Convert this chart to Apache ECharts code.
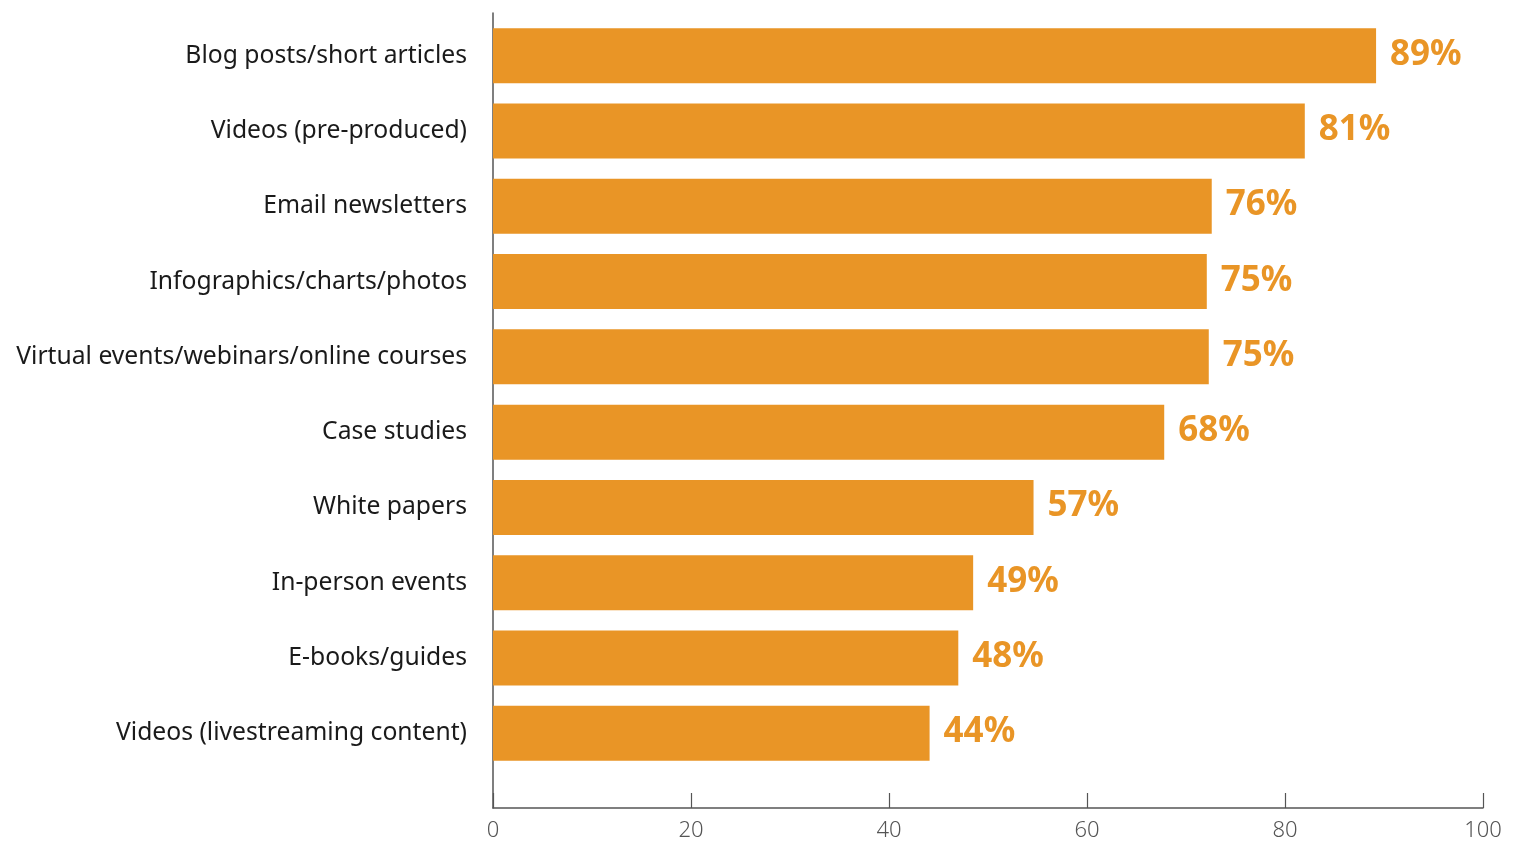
<!DOCTYPE html>
<html>
<head>
<meta charset="utf-8">
<script src="https://cdn.jsdelivr.net/npm/echarts@6/dist/echarts.min.js"></script>
<style>
html,body{margin:0;padding:0;background:#fff;}
#chart{width:1514px;height:843px;}
</style>
</head>
<body>
<div id="chart"></div>
<script>
var categories = [
  'Blog posts/short articles',
  'Videos (pre-produced)',
  'Email newsletters',
  'Infographics/charts/photos',
  'Virtual events/webinars/online courses',
  'Case studies',
  'White papers',
  'In-person events',
  'E-books/guides',
  'Videos (livestreaming content)'
];
// bar lengths as drawn in the picture
var barValues = [89.2, 82.0, 72.6, 72.1, 72.3, 67.8, 54.6, 48.5, 47.0, 44.1];
// value labels as printed in the picture
var valueLabels = ['89%', '81%', '76%', '75%', '75%', '68%', '57%', '49%', '48%', '44%'];
var xTicks = [0, 20, 40, 60, 80, 100];

var barColor = '#E99526';
var chart = echarts.init(document.getElementById('chart'));
chart.setOption({
  animation: false,
  grid: [
    {left: 493, right: 31, top: 18, bottom: 72},
    {left: 493, right: 31, top: 13, bottom: 35}
  ],
  xAxis: [
    {gridIndex: 0, type: 'value', min: 0, max: 100, show: false},
    {gridIndex: 1, type: 'value', min: xTicks[0], max: xTicks[xTicks.length - 1], interval: 20,
     axisLine: {show: true, lineStyle: {color: '#555', width: 1.5}},
     axisTick: {show: true, inside: true, length: 15, lineStyle: {color: '#555', width: 1.2}},
     splitLine: {show: false},
     axisLabel: {color: '#555', fontFamily: 'Noto Sans', fontSize: 22, fontWeight: 300, margin: 12}}
  ],
  yAxis: [
    {gridIndex: 0, type: 'category', inverse: true, data: categories,
     axisLine: {show: false}, axisTick: {show: false},
     axisLabel: {color: '#1a1a1a', fontFamily: 'Noto Sans', fontSize: 24.7, margin: 26}},
    {gridIndex: 1, type: 'value', min: 0, max: 1,
     axisLine: {show: true, lineStyle: {color: '#555', width: 1.5}},
     axisTick: {show: false}, axisLabel: {show: false}, splitLine: {show: false}}
  ],
  series: [{
    type: 'bar',
    xAxisIndex: 0, yAxisIndex: 0,
    data: barValues,
    barWidth: 55,
    itemStyle: {color: barColor},
    label: {
      show: true, position: 'right', distance: 14,
      formatter: function (p) { return valueLabels[p.dataIndex]; },
      color: barColor, fontFamily: 'Noto Sans', fontWeight: 'bold', fontSize: 35,
      offset: [0, -1]
    }
  }]
});
</script>
</body>
</html>
